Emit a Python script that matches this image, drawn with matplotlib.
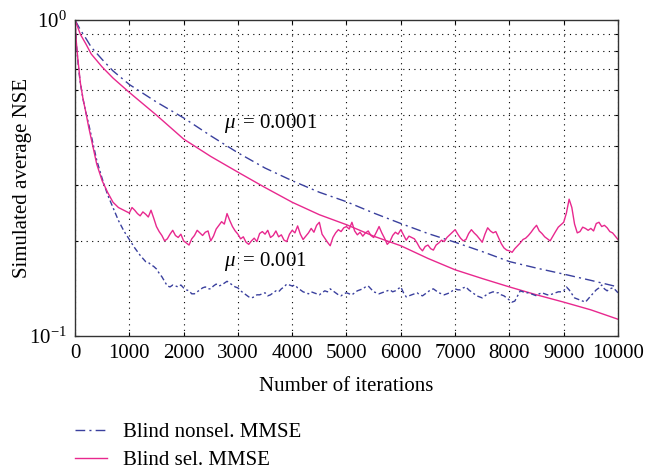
import numpy as np
import matplotlib
matplotlib.use("Agg")
import matplotlib.pyplot as plt

plt.rcParams['font.family'] = ['Liberation Serif', 'DejaVu Serif']
plt.rcParams['mathtext.fontset'] = 'custom'
plt.rcParams['mathtext.rm'] = 'Liberation Serif'
plt.rcParams['mathtext.it'] = 'Liberation Serif:italic'

# ---- data ----
# slow step size mu = 0.0001 (smooth curves)
x_slow = [0, 100, 200, 300, 500, 700, 1000, 1500, 2000, 2500, 3000, 3500, 4000,
          4500, 5000, 5500, 6000, 6500, 7000, 7500, 8000, 8500, 9000, 9500, 10000]
sel_slow = [1.0, 0.90, 0.84, 0.78, 0.71, 0.655, 0.59, 0.50, 0.42, 0.37, 0.33, 0.295,
            0.265, 0.242, 0.225, 0.207, 0.193, 0.176, 0.162, 0.152, 0.143, 0.135,
            0.128, 0.121, 0.113]
nonsel_slow = [1.0, 0.93, 0.875, 0.82, 0.75, 0.69, 0.625, 0.55, 0.49, 0.43, 0.38, 0.34,
               0.31, 0.285, 0.266, 0.245, 0.227, 0.211, 0.198, 0.185, 0.172, 0.164,
               0.157, 0.150, 0.143]

# fast step size mu = 0.001 (noisy curves)
x_fast = [0, 25, 50, 75, 100, 150, 200, 250, 300, 400, 500, 600, 700, 800, 900] \
    + list(range(1000, 10001, 50))
sel_fast = [
    1.0, 0.85, 0.76, 0.69, 0.63, 0.56, 0.51, 0.46, 0.42, 0.35, 0.31, 0.285, 0.265, 0.255, 0.25,
    0.245, 0.255, 0.250, 0.244, 0.240, 0.247, 0.243, 0.238, 0.250, 0.236,
    0.222, 0.214, 0.208, 0.200, 0.203, 0.210, 0.216, 0.208, 0.205, 0.210,
    0.200, 0.197, 0.194, 0.203, 0.208, 0.216, 0.212, 0.208, 0.213, 0.215,
    0.200, 0.207, 0.218, 0.224, 0.230, 0.226, 0.244, 0.232, 0.222, 0.215,
    0.210, 0.203, 0.206, 0.198, 0.195, 0.200, 0.204, 0.199, 0.211, 0.214,
    0.210, 0.216, 0.205, 0.208, 0.215, 0.206, 0.209, 0.201, 0.199, 0.210,
    0.216, 0.212, 0.223, 0.210, 0.202, 0.207, 0.212, 0.219, 0.213, 0.224,
    0.229, 0.210, 0.204, 0.198, 0.193, 0.205, 0.212, 0.217, 0.214, 0.220,
    0.222, 0.218, 0.229, 0.215, 0.209, 0.213, 0.207, 0.212, 0.215, 0.208,
    0.205, 0.213, 0.222, 0.212, 0.204, 0.195, 0.199, 0.208, 0.213, 0.210,
    0.217, 0.209, 0.201, 0.207, 0.205, 0.203, 0.197, 0.190, 0.186, 0.192,
    0.194, 0.189, 0.187, 0.194, 0.197, 0.201, 0.199, 0.205, 0.209, 0.213,
    0.217, 0.210, 0.204, 0.200, 0.202, 0.211, 0.217, 0.212, 0.208, 0.203,
    0.198, 0.210, 0.220, 0.215, 0.212, 0.214, 0.205, 0.196, 0.190, 0.187,
    0.186, 0.184, 0.189, 0.193, 0.197, 0.202, 0.204, 0.208, 0.213, 0.219,
    0.224, 0.215, 0.211, 0.206, 0.203, 0.200, 0.207, 0.214, 0.221, 0.225,
    0.229, 0.245, 0.271, 0.255, 0.226, 0.212, 0.214, 0.221, 0.219, 0.216,
    0.219, 0.215, 0.227, 0.229, 0.222, 0.224, 0.220, 0.214, 0.212, 0.207,
    0.202]
nonsel_fast = [
    1.0, 0.84, 0.75, 0.68, 0.63, 0.56, 0.51, 0.47, 0.43, 0.36, 0.315, 0.28, 0.255, 0.232, 0.215,
    0.202, 0.196, 0.190, 0.185, 0.180, 0.176, 0.172, 0.171, 0.168, 0.166,
    0.163, 0.158, 0.154, 0.149, 0.144, 0.143, 0.145, 0.144, 0.143, 0.145,
    0.142, 0.140, 0.139, 0.136, 0.136, 0.138, 0.140, 0.142, 0.143, 0.141,
    0.141, 0.144, 0.146, 0.144, 0.145, 0.147, 0.149, 0.147, 0.145, 0.143,
    0.142, 0.139, 0.137, 0.135, 0.133, 0.132, 0.133, 0.135, 0.135, 0.136,
    0.137, 0.134, 0.135, 0.137, 0.139, 0.138, 0.141, 0.143, 0.146, 0.145,
    0.144, 0.145, 0.142, 0.140, 0.138, 0.137, 0.136, 0.138, 0.137, 0.136,
    0.135, 0.137, 0.139, 0.138, 0.141, 0.139, 0.137, 0.135, 0.134, 0.136,
    0.137, 0.136, 0.135, 0.137, 0.139, 0.140, 0.141, 0.143, 0.144, 0.141,
    0.138, 0.137, 0.136, 0.137, 0.138, 0.139, 0.140, 0.138, 0.139, 0.141,
    0.143, 0.137, 0.133, 0.134, 0.135, 0.136, 0.137, 0.135, 0.134, 0.136,
    0.138, 0.140, 0.141, 0.139, 0.137, 0.136, 0.135, 0.136, 0.137, 0.139,
    0.141, 0.140, 0.140, 0.142, 0.143, 0.140, 0.138, 0.136, 0.134, 0.133,
    0.132, 0.134, 0.136, 0.137, 0.138, 0.137, 0.137, 0.135, 0.134, 0.132,
    0.130, 0.128, 0.129, 0.134, 0.139, 0.138, 0.137, 0.137, 0.136, 0.135,
    0.134, 0.136, 0.137, 0.136, 0.135, 0.135, 0.136, 0.137, 0.138, 0.138,
    0.139, 0.143, 0.140, 0.136, 0.132, 0.131, 0.130, 0.129, 0.128, 0.131,
    0.134, 0.137, 0.140, 0.142, 0.145, 0.141, 0.139, 0.141, 0.142, 0.140,
    0.137]

x_ticks = [0, 1000, 2000, 3000, 4000, 5000, 6000, 7000, 8000, 9000, 10000]
legend_labels = ["Blind nonsel. MMSE", "Blind sel. MMSE"]
annot_slow = r"$\mu\,$ = 0.0001"
annot_fast = r"$\mu\,$ = 0.001"

c_blue = "#3a409e"
c_pink = "#e8288e"
fs = 15

fig = plt.figure(figsize=(6.55, 4.71), dpi=100)
ax = fig.add_axes([0.1145, 0.2866, 0.829, 0.671])

l1, = ax.plot(x_slow, nonsel_slow, color=c_blue, lw=1.0, ls=(0, (7, 3, 1.5, 3)))
l2, = ax.plot(x_slow, sel_slow, color=c_pink, lw=1.0)
ax.plot(x_fast, nonsel_fast, color=c_blue, lw=1.0, ls=(0, (4, 2, 1.5, 2)))
ax.plot(x_fast, sel_fast, color=c_pink, lw=1.0)

ax.set_yscale('log')
ax.set_ylim(0.1, 1.0)
ax.set_xlim(0, 10000)
ax.set_xticks(x_ticks)
ax.set_xticklabels([str(t) for t in x_ticks])
ax.set_yticks([0.1, 1.0])
ax.set_yticklabels([r"$10^{-1}$", r"$10^{0}$"])
ax.yaxis.set_minor_locator(matplotlib.ticker.LogLocator(base=10, subs=np.arange(2, 10)))
ax.yaxis.set_minor_formatter(matplotlib.ticker.NullFormatter())

ax.grid(True, which='major', axis='x', color='black', ls=(0, (1, 4)), lw=0.8)
ax.grid(True, which='minor', axis='y', color='black', ls=(0, (1, 4)), lw=0.8)
ax.tick_params(axis='both', which='both', direction='in', labelsize=fs,
               top=True, right=True, length=3, width=0.8, pad=6)
ax.tick_params(axis='y', which='minor', length=2)
for s in ax.spines.values():
    s.set_linewidth(1.0)
    s.set_color('#333333')

ax.set_xlabel("Number of iterations", fontsize=fs, labelpad=10)
ax.set_ylabel("Simulated average NSE", fontsize=fs, labelpad=-2)

ax.text(2750, 0.47, annot_slow, fontsize=fs, va='center', ha='left')
ax.text(2750, 0.172, annot_fast, fontsize=fs, va='center', ha='left')

fig.legend([l1, l2], legend_labels, loc='upper left', bbox_to_anchor=(0.1025, 0.121),
           frameon=False, fontsize=fs, handlelength=1.5, handletextpad=0.8,
           labelspacing=0.4, borderaxespad=0.0)

fig.savefig("out.png", dpi=100)
